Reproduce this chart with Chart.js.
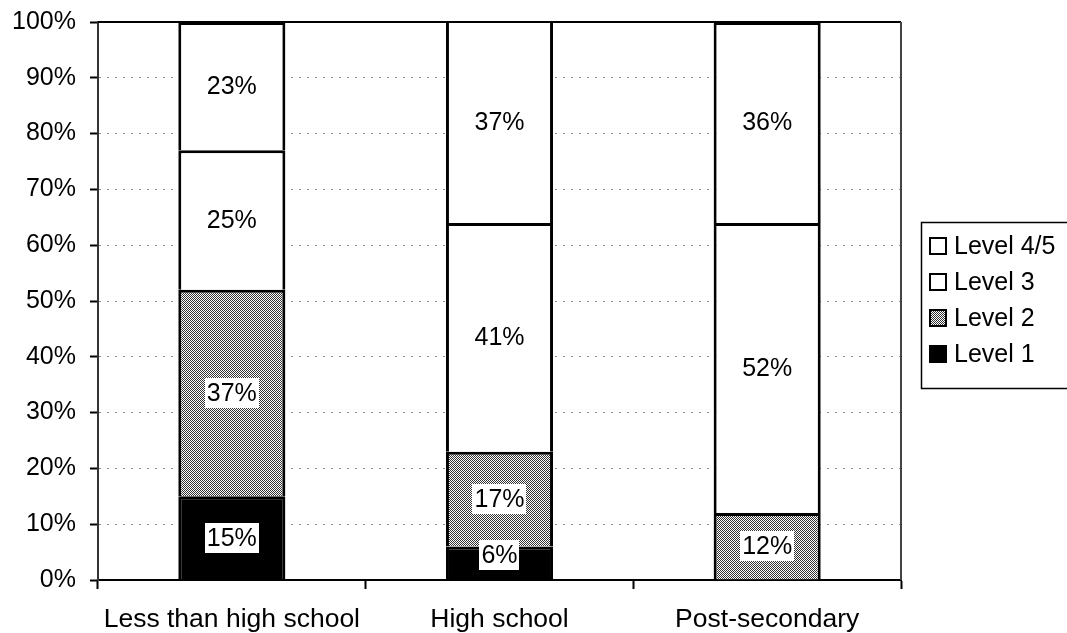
<!DOCTYPE html>
<html>
<head>
<meta charset="utf-8">
<script src="https://cdn.jsdelivr.net/npm/chart.js@4/dist/chart.umd.min.js"></script>
<style>
  html, body { margin: 0; padding: 0; background: #fff; overflow: hidden; }
  #wrap { width: 1067px; height: 633px; position: relative; }
</style>
</head>
<body>
<div id="wrap"><canvas id="c" width="1067" height="633"></canvas></div>
<script>
// Proficiency levels by education, percent of each group
const categories = ['Less than high school', 'High school', 'Post-secondary'];
const level1 = [15, 6, 0];
const level2 = [37, 17, 12];
const level3 = [25, 41, 52];
const level45 = [23, 37, 36];
const seriesNames = ['Level 1', 'Level 2', 'Level 3', 'Level 4/5'];
const yTickValues = [0, 10, 20, 30, 40, 50, 60, 70, 80, 90, 100];

const FONT = "'Liberation Sans', Arial, sans-serif";

// Dithered grey fill used for Level 2
function makeDither() {
  const p = document.createElement('canvas');
  p.width = 2; p.height = 2;
  const g = p.getContext('2d');
  g.fillStyle = '#ffffff'; g.fillRect(0, 0, 2, 2);
  g.fillStyle = '#333333';
  g.fillRect(0, 0, 1, 1);
  g.fillRect(1, 1, 1, 1);
  return g.createPattern(p, 'repeat');
}
const dither = makeDither();

const fills = ['#000000', dither, '#ffffff', '#ffffff'];
const values = [level1, level2, level3, level45];

const datasets = values.map((arr, i) => ({
  label: seriesNames[i],
  data: arr,
  backgroundColor: fills[i],
  borderColor: '#000000',
  borderWidth: 3,
  borderSkipped: 'start',
  clip: 0,
  barPercentage: 0.4,
  categoryPercentage: 1.0
}));

// Value labels on white boxes, centred in each segment
const valueLabels = {
  id: 'valueLabels',
  afterDatasetsDraw(chart) {
    const ctx = chart.ctx;
    const area = chart.chartArea;
    ctx.save();
    ctx.font = '25px ' + FONT;
    ctx.textAlign = 'center';
    ctx.textBaseline = 'middle';
    chart.data.datasets.forEach((ds, di) => {
      const meta = chart.getDatasetMeta(di);
      meta.data.forEach((el, i) => {
        const v = ds.data[i];
        if (!v) return;
        const top = Math.max(el.y, area.top);
        let cy = (top + el.base) / 2;
        const h = 30;
        if (cy + h / 2 > area.bottom - 10) cy = area.bottom - 10 - h / 2;
        const txt = v + '%';
        const w = ctx.measureText(txt).width + 4;
        ctx.fillStyle = '#ffffff';
        ctx.fillRect(Math.round(el.x - w / 2), Math.round(cy - h / 2), Math.round(w), h);
        ctx.fillStyle = '#000000';
        ctx.fillText(txt, el.x, cy + 1);
      });
    });
    ctx.restore();
  }
};

// Plot frame: solid top edge, dark right edge
const frame = {
  id: 'frame',
  afterDatasetsDraw(chart) {
    const { ctx, chartArea: a } = chart;
    ctx.save();
    ctx.strokeStyle = '#000';
    ctx.lineWidth = 2;
    ctx.beginPath();
    ctx.moveTo(a.left, a.top);
    ctx.lineTo(a.right, a.top);
    ctx.stroke();
    ctx.strokeStyle = '#444';
    ctx.beginPath();
    ctx.moveTo(a.right, a.top);
    ctx.lineTo(a.right, a.bottom);
    ctx.stroke();
    ctx.restore();
  }
};

// Boxed legend on the right, top series first
const boxLegend = {
  id: 'boxLegend',
  afterDraw(chart) {
    const ctx = chart.ctx;
    ctx.save();
    ctx.strokeStyle = '#000';
    ctx.lineWidth = 1.5;
    ctx.strokeRect(921.5, 222.5, 200, 166);
    ctx.font = '25px ' + FONT;
    ctx.textAlign = 'left';
    ctx.textBaseline = 'middle';
    const order = chart.data.datasets.map((d, i) => i).reverse();
    order.forEach((di, row) => {
      const ds = chart.data.datasets[di];
      const cy = 246 + row * 36;
      ctx.fillStyle = ds.backgroundColor;
      ctx.fillRect(930, cy - 8, 16, 16);
      ctx.strokeStyle = '#000';
      ctx.lineWidth = 2;
      ctx.strokeRect(930, cy - 8, 16, 16);
      ctx.fillStyle = '#000';
      ctx.fillText(ds.label, 954, cy + 1);
    });
    ctx.restore();
  }
};

function noEdgePadding(s) {
  s.paddingTop = 0;
  s.paddingBottom = 0;
  s.paddingLeft = 0;
  s.paddingRight = 0;
}

new Chart(document.getElementById('c'), {
  type: 'bar',
  data: { labels: categories, datasets },
  options: {
    responsive: false,
    animation: false,
    devicePixelRatio: 1,
    layout: { padding: { top: 22, right: 166, bottom: 0, left: 0 } },
    plugins: {
      legend: { display: false },
      tooltip: { enabled: false },
      title: { display: false }
    },
    scales: {
      x: {
        stacked: true,
        offset: true,
        afterFit(s) { s.height = 53; noEdgePadding(s); },
        grid: {
          offset: true,
          drawOnChartArea: false,
          drawTicks: true,
          tickLength: 9,
          tickColor: '#000',
          tickWidth: 2
        },
        border: { display: true, color: '#000', width: 2 },
        ticks: {
          color: '#000',
          font: { family: FONT, size: 26.5 },
          padding: 15,
          maxRotation: 0,
          autoSkip: false
        }
      },
      y: {
        stacked: true,
        min: 0,
        max: 100,
        afterFit(s) { s.width = 98; noEdgePadding(s); },
        afterBuildTicks(s) { s.ticks = yTickValues.map(v => ({ value: v })); },
        grid: {
          color: (c) => (c.tick && (c.tick.value === 0 || c.tick.value === 100)) ? 'rgba(0,0,0,0)' : '#8c8c8c',
          lineWidth: 1,
          drawTicks: true,
          tickLength: 8,
          tickColor: '#000',
          tickWidth: 2,
          tickBorderDash: []
        },
        border: { display: true, color: '#333', width: 2, dash: [2, 6] },
        ticks: {
          color: '#000',
          font: { family: FONT, size: 25 },
          padding: 14,
          callback: (v) => v + '%'
        }
      }
    }
  },
  plugins: [valueLabels, frame, boxLegend]
});
</script>
</body>
</html>
